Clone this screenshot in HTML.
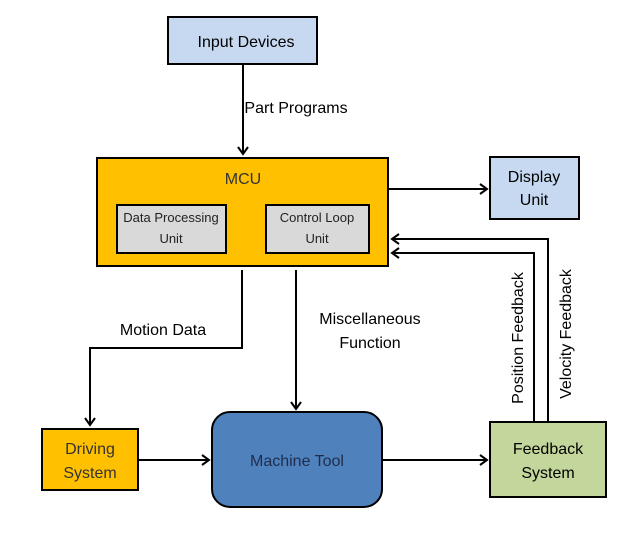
<!DOCTYPE html>
<html><head><meta charset="utf-8"><style>
html,body{margin:0;padding:0;background:#fff;}
svg text{font-family:"Liberation Sans",sans-serif;}
</style></head><body>
<svg width="640" height="539" viewBox="0 0 640 539" xmlns="http://www.w3.org/2000/svg">
<defs>
<marker id="a" markerWidth="12" markerHeight="12" refX="9" refY="6" orient="auto" markerUnits="userSpaceOnUse">
<path d="M2,1 L9,6 L2,11" fill="none" stroke="#000" stroke-width="2"/>
</marker>
</defs>
<g stroke="#000" stroke-width="2" fill="none">
<line x1="243" y1="64" x2="243" y2="154" marker-end="url(#a)"/>
<line x1="388" y1="189" x2="487" y2="189" marker-end="url(#a)"/>
<polyline points="548,422 548,239 392,239" marker-end="url(#a)"/>
<polyline points="534,422 534,253 392,253" marker-end="url(#a)"/>
<polyline points="242,270 242,348 90,348 90,425" marker-end="url(#a)"/>
<line x1="296" y1="270" x2="296" y2="409" marker-end="url(#a)"/>
<line x1="138" y1="460" x2="209" y2="460" marker-end="url(#a)"/>
<line x1="382" y1="460" x2="487" y2="460" marker-end="url(#a)"/>
</g>
<rect x="168" y="17" width="149" height="47" fill="#c6d9f1" stroke="#000" stroke-width="2"/>
<rect x="97" y="158" width="291" height="108" fill="#ffc000" stroke="#000" stroke-width="2"/>
<rect x="117" y="205" width="109" height="48" fill="#d9d9d9" stroke="#000" stroke-width="2"/>
<rect x="266" y="205" width="103" height="48" fill="#d9d9d9" stroke="#000" stroke-width="2"/>
<rect x="490" y="157" width="89" height="62" fill="#c6d9f1" stroke="#000" stroke-width="2"/>
<rect x="42" y="429" width="96" height="61" fill="#ffc000" stroke="#000" stroke-width="2"/>
<rect x="212" y="412" width="170" height="95" rx="18" fill="#4f81bd" stroke="#000" stroke-width="2"/>
<rect x="490" y="422" width="116" height="75" fill="#c3d69b" stroke="#000" stroke-width="2"/>
<g font-size="16" fill="#000" text-anchor="middle">
<text x="246" y="47">Input Devices</text>
<text x="296" y="113">Part Programs</text>
<text x="243" y="184" fill="#333">MCU</text>
<text x="534" y="182">Display</text>
<text x="534" y="205">Unit</text>
<text x="163" y="335">Motion Data</text>
<text x="370" y="324">Miscellaneous</text>
<text x="370" y="348">Function</text>
<text x="90" y="454" fill="#333">Driving</text>
<text x="90" y="478" fill="#333">System</text>
<text x="297" y="466" fill="#1f2d4d">Machine Tool</text>
<text x="548" y="454">Feedback</text>
<text x="548" y="478">System</text>
</g>
<g font-size="13" fill="#222" text-anchor="middle">
<text x="171" y="222">Data Processing</text>
<text x="171" y="243">Unit</text>
<text x="317" y="222">Control Loop</text>
<text x="317" y="243">Unit</text>
</g>
<g font-size="16" fill="#000" text-anchor="middle">
<text transform="translate(523,338) rotate(-90)">Position Feedback</text>
<text transform="translate(571,334) rotate(-90)">Velocity Feedback</text>
</g>
</svg>
</body></html>
